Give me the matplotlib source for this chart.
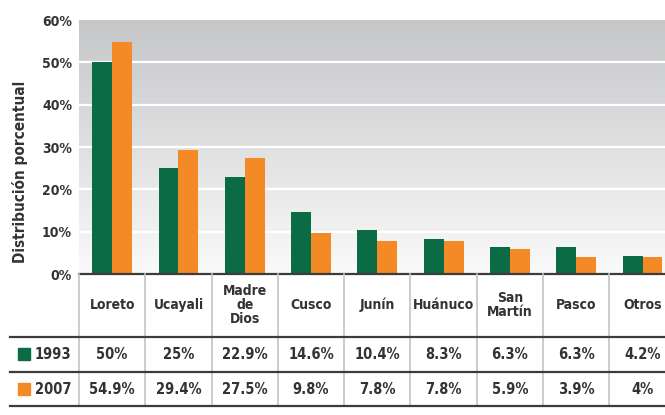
import numpy as np
import matplotlib
matplotlib.use('Agg')
import matplotlib.pyplot as plt
from matplotlib.transforms import ScaledTranslation

plt.rcParams['font.family'] = ['DejaVu Sans']
plt.rcParams['font.stretch'] = 'condensed'
plt.rcParams['font.weight'] = 'bold'

# datos
regiones = ['Loreto', 'Ucayali', 'Madre\nde\nDios', 'Cusco', 'Junín',
            'Huánuco', 'San\nMartín', 'Pasco', 'Otros']
v1993 = [50, 25, 22.9, 14.6, 10.4, 8.3, 6.3, 6.3, 4.2]
v2007 = [54.9, 29.4, 27.5, 9.8, 7.8, 7.8, 5.9, 3.9, 4]
txt1993 = ['50%', '25%', '22.9%', '14.6%', '10.4%', '8.3%', '6.3%', '6.3%', '4.2%']
txt2007 = ['54.9%', '29.4%', '27.5%', '9.8%', '7.8%', '7.8%', '5.9%', '3.9%', '4%']
anios = ['1993', '2007']

verde = '#0b6b45'
naranja = '#f48a25'
oscuro = '#3c3c3c'
gris_linea = '#c4c4c4'

W, H = 665, 415
fig = plt.figure(figsize=(W / 100, H / 100), dpi=100)
col_w = 66.3
ax = fig.add_axes([79 / W, 141 / H, col_w * 9 / W, 254 / H])
tab = fig.add_axes([79 / W, 9 / H, col_w * 9 / W, 132 / H], sharex=ax)

x = np.arange(len(regiones))

# fondo degradado
grad = np.linspace(0, 1, 256).reshape(-1, 1)
ax.imshow(grad, cmap=matplotlib.colors.LinearSegmentedColormap.from_list(
    'g', ['#c5c6c8', '#fafafa']), extent=(-0.5, 8.5, 0, 60), aspect='auto',
    origin='upper', zorder=0)

ax.bar(x - 0.15, v1993, width=0.3, color=verde, zorder=3)
ax.bar(x + 0.15, v2007, width=0.3, color=naranja, zorder=3)

ax.set_xlim(-0.5, 8.5)
ax.set_ylim(0, 60)
for yy in range(10, 60, 10):
    ax.axhline(yy, color='white', lw=1.6, zorder=1)
ax.axhline(0, color=oscuro, lw=1.6, zorder=4, clip_on=False)

ax.set_yticks(range(0, 61, 10))
ax.set_yticklabels([f'{v}%' for v in range(0, 61, 10)], fontsize=10,
                   color='#333333')
off = ScaledTranslation(0, -0.04, fig.dpi_scale_trans)
for lab in ax.get_yticklabels():
    lab.set_transform(lab.get_transform() + off)
ax.tick_params(axis='y', length=0, pad=5)
ax.tick_params(axis='x', bottom=False, labelbottom=False)
for s in ax.spines.values():
    s.set_visible(False)

fig.text(20 / W, 1 - 172 / H, 'Distribución porcentual', rotation=90,
         ha='center', va='center', fontsize=11, color='#333333')

# tabla
tab.set_ylim(132, 0)
tab.axis('off')
for xv in np.arange(-0.5, 9, 1):
    tab.plot([xv, xv], [0, 132], color=gris_linea, lw=1.2, clip_on=False)
x_ini = (10 - 79) / col_w - 0.5
for yy in [63, 98, 132]:
    tab.plot([x_ini, 9], [yy, yy], color=oscuro, lw=1.6, clip_on=False)

for i, r in enumerate(regiones):
    tab.text(i, 31, r, ha='center', va='center', fontsize=10,
             color='#333333', linespacing=1.0)
    tab.text(i, 80, txt1993[i], ha='center', va='center', fontsize=10.5,
             color='#333333')
    tab.text(i, 115, txt2007[i], ha='center', va='center', fontsize=10.5,
             color='#333333')

x_sq = (23.5 - 79) / col_w - 0.5
x_lab = (35 - 79) / col_w - 0.5
for yy, col, a in zip([80, 115], [verde, naranja], anios):
    tab.plot([x_sq], [yy], marker='s', ms=8.5, color=col, clip_on=False)
    tab.text(x_lab, yy, a, ha='left', va='center', fontsize=10.5,
             color='#333333')

fig.savefig('out.png', dpi=100)
